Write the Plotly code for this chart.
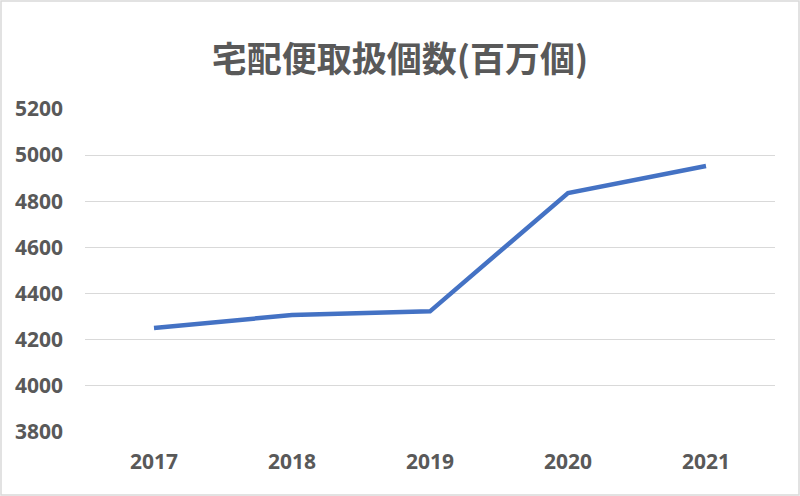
import plotly.graph_objects as go

years = ["2017", "2018", "2019", "2020", "2021"]
parcels = [4251, 4307, 4323, 4836, 4953]
y_ticks = [3800, 4000, 4200, 4400, 4600, 4800, 5000, 5200]

W, H = 800, 496
L, R, T, B = 85, 25, 109, 64
pw, ph = W - L - R, H - T - B

fig = go.Figure()
fig.add_trace(go.Scatter(
    x=years, y=parcels, mode="lines",
    line=dict(color="#4472C4", width=4.5),
    hoverinfo="x+y",
))

fig.update_layout(
    width=W, height=H,
    margin=dict(l=L, r=R, t=T, b=B),
    paper_bgcolor="white", plot_bgcolor="white",
    font=dict(family="Noto Sans CJK JP, Noto Sans", color="#595959"),
    title=dict(
        text="<b>宅配便取扱個数(百万個)</b>",
        x=0.5, xanchor="center", y=1 - 60 / H, yanchor="middle",
        font=dict(size=35, color="#595959", family="Noto Sans CJK JP"),
    ),
    showlegend=False,
    xaxis=dict(
        type="category", range=[-0.5, 4.5],
        showgrid=False, zeroline=False, showline=False,
        ticks="", tickfont=dict(size=21, family="Noto Sans", weight="bold"),
        ticklabelstandoff=15,
    ),
    yaxis=dict(
        range=[3800, 5200], tickvals=y_ticks, ticktext=[str(v) for v in y_ticks],
        showgrid=True, gridcolor="#D9D9D9", gridwidth=1.3,
        zeroline=False, showline=False, ticks="",
        tickfont=dict(size=21, family="Noto Sans", weight="bold"),
        ticklabelstandoff=21,
    ),
)

# outer chart border
fig.add_shape(
    type="rect", xref="paper", yref="paper",
    x0=-(L - 1) / pw, x1=(W - L - 1) / pw,
    y0=-(B - 1) / ph, y1=(H - 1 - B) / ph,
    line=dict(color="#D9D9D9", width=1.5), layer="below",
)

fig.write_html("out.html", config={"displayModeBar": False},
               post_script="document.body.style.margin='0';")
